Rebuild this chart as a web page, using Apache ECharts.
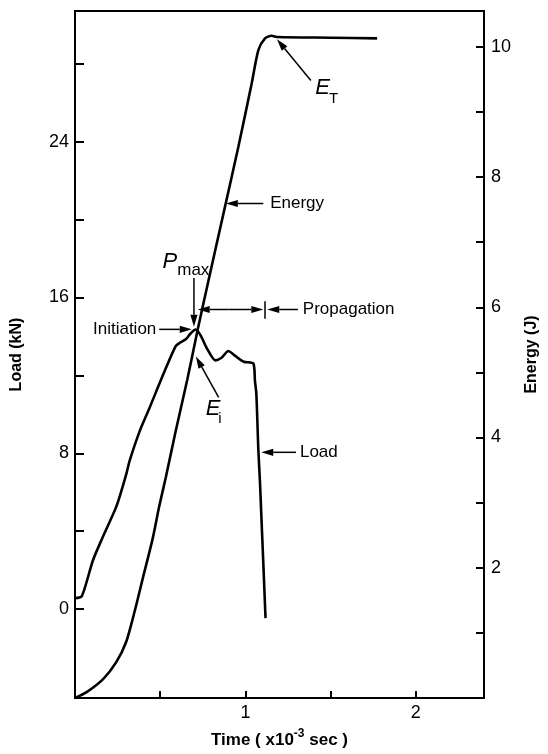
<!DOCTYPE html>
<html>
<head>
<meta charset="utf-8">
<script src="https://cdn.jsdelivr.net/npm/echarts@6/dist/echarts.min.js"></script>
<style>
html,body{margin:0;padding:0;background:#fff;}
#c{width:548px;height:754px;}
</style>
</head>
<body>
<div id="c"></div>
<script>
// ---- data ----
const loadTime = [0, 0.04, 0.105, 0.163, 0.244, 0.30, 0.32, 0.378, 0.436, 0.506, 0.591, 0.62, 0.65, 0.678, 0.708, 0.737, 0.773, 0.824, 0.86, 0.90, 0.94, 0.99, 1.047, 1.056, 1.064, 1.076, 1.085, 1.093, 1.105, 1.118];
const loadKN   = [0.56, 0.67, 2.5, 3.7, 5.3, 6.9, 7.6, 9.1, 10.3, 11.8, 13.5, 13.7, 13.85, 14.15, 14.35, 14.05, 13.4, 12.77, 12.9, 13.25, 13.0, 12.7, 12.6, 11.7, 11.08, 8.15, 6.6, 4.9, 2.36, -0.46];
const energyTime = [0, 0.068, 0.165, 0.242, 0.30, 0.349, 0.397, 0.455, 0.494, 0.533, 0.591, 0.659, 0.721, 0.785, 0.872, 0.959, 1.037, 1.076, 1.115, 1.153, 1.19, 1.5, 1.773];
const energyJ    = [0, 0.09, 0.29, 0.55, 0.86, 1.32, 1.83, 2.44, 2.94, 3.39, 4.1, 4.89, 5.67, 6.43, 7.45, 8.47, 9.44, 9.95, 10.13, 10.17, 10.15, 10.14, 10.13];
const timeTicks = [0.5, 1, 1.5, 2];
const timeLabels = [1, 2];
const loadTicks = [0, 4, 8, 12, 16, 20, 24, 28];
const loadLabels = [0, 8, 16, 24];
const energyTicks = [1, 2, 3, 4, 5, 6, 7, 8, 9, 10];
const energyLabels = [2, 4, 6, 8, 10];

const FONT = "'Liberation Sans Narrow','Liberation Sans',Arial,sans-serif";
const chart = echarts.init(document.getElementById('c'), null, {renderer:'canvas'});

const axisLine = {show:true, onZero:false, lineStyle:{color:'#000', width:2}};
chart.setOption({
  animation:false,
  backgroundColor:'#fff',
  grid:{left:75, right:60, top:11, bottom:55, show:true, borderColor:'#000', borderWidth:2, backgroundColor:'transparent'},
  xAxis:{
    type:'value', min:0, max:2.4,
    axisLine:axisLine,
    axisTick:{show:true, inside:true, length:7, lineStyle:{color:'#000', width:2}, customValues:timeTicks},
    axisLabel:{show:true, color:'#000', fontSize:18, fontFamily:FONT, margin:6, customValues:timeLabels},
    splitLine:{show:false},
    name:'{b|Time ( x10}{sup|-3}{b| sec )}',
    nameLocation:'middle', nameGap:30,
    nameTextStyle:{color:'#000', fontFamily:FONT, rich:{
      b:{fontSize:17, fontWeight:'bold', fontFamily:FONT, color:'#000', verticalAlign:'bottom'},
      sup:{fontSize:12, fontWeight:'bold', fontFamily:FONT, color:'#000', verticalAlign:'top', padding:[0,0,9,0]}
    }}
  },
  yAxis:[{
    type:'value', min:-4.56, max:30.7, position:'left',
    axisLine:axisLine,
    axisTick:{show:true, inside:true, length:9, lineStyle:{color:'#000', width:2}, customValues:loadTicks},
    axisLabel:{show:true, color:'#000', fontSize:18, fontFamily:FONT, margin:6, customValues:loadLabels},
    splitLine:{show:false},
    name:'Load (kN)', nameLocation:'middle', nameGap:50, nameRotate:90,
    nameTextStyle:{color:'#000', fontSize:16, fontWeight:'bold', fontFamily:FONT}
  },{
    type:'value', min:0, max:10.55, position:'right',
    axisLine:axisLine,
    axisTick:{show:true, inside:true, length:8, lineStyle:{color:'#000', width:2}, customValues:energyTicks},
    axisLabel:{show:true, color:'#000', fontSize:18, fontFamily:FONT, margin:7, customValues:energyLabels},
    splitLine:{show:false},
    name:'Energy (J)', nameLocation:'middle', nameGap:40, nameRotate:90,
    nameTextStyle:{color:'#000', fontSize:16, fontWeight:'bold', fontFamily:FONT}
  }],
  series:[{
    type:'line', name:'Load', yAxisIndex:0, showSymbol:false, smooth:0.25,
    lineStyle:{color:'#000', width:2.6}, z:3,
    data:loadTime.map((t,i)=>[t, loadKN[i]])
  },{
    type:'line', name:'Energy', yAxisIndex:1, showSymbol:false, smooth:0.25,
    lineStyle:{color:'#000', width:2.6}, z:3,
    data:energyTime.map((t,i)=>[t, energyJ[i]])
  }]
});

// ---- annotations (in Load-axis data coordinates) ----
function P(t, l){ return chart.convertToPixel({xAxisIndex:0, yAxisIndex:0}, [t, l]); }
function arrow(a, b, opts){
  opts = opts || {};
  const hl = opts.hl || 12, hw = opts.hw || 3.6;
  const dx=b[0]-a[0], dy=b[1]-a[1], L=Math.hypot(dx,dy), ux=dx/L, uy=dy/L;
  const bx=b[0]-ux*hl, by=b[1]-uy*hl;
  return [
    {type:'line', shape:{x1:a[0], y1:a[1], x2:bx, y2:by}, style:{stroke:'#000', lineWidth:1.5}, z:10},
    {type:'polygon', shape:{points:[[b[0],b[1]],[bx-uy*hw, by+ux*hw],[bx+uy*hw, by-ux*hw]]}, style:{fill:'#000'}, z:10}
  ];
}
function txt(p, s, o){
  o = o || {};
  return {type:'text', x:p[0], y:p[1], z:10, style:{text:s, fill:'#000', font:(o.italic?'italic ':'')+(o.size||17)+'px '+FONT, textAlign:o.align||'left', textVerticalAlign:o.va||'middle'}};
}
const g = [];
// Energy
g.push(...arrow(P(1.105,20.82), P(0.885,20.82)));
g.push(txt(P(1.145,20.82), 'Energy'));
// E_T
g.push(...arrow(P(1.384,27.13), P(1.185,29.25)));
g.push(txt(P(1.41,26.75), 'E', {italic:true, size:22}));
g.push(txt(P(1.49,26.2), 'T', {size:15}));
// P_max
g.push(...arrow(P(0.698,17.0), P(0.698,14.5)));
g.push(txt(P(0.60,17.8), 'P', {italic:true, size:22, align:'right'}));
g.push(txt(P(0.60,17.4), 'max', {size:17}));
// Initiation
g.push(...arrow(P(0.494,14.36), P(0.685,14.36)));
g.push(txt(P(0.477,14.36), 'Initiation', {align:'right'}));
// Propagation
g.push(...arrow(P(0.9,15.38), P(0.72,15.38)));
g.push(...arrow(P(0.9,15.38), P(1.105,15.38)));
(function(){ const a=P(1.115,15.8), b=P(1.115,14.9); g.push({type:'line', shape:{x1:a[0],y1:a[1],x2:b[0],y2:b[1]}, style:{stroke:'#000', lineWidth:1.5}, z:10}); })();
g.push(...arrow(P(1.308,15.38), P(1.128,15.38)));
g.push(txt(P(1.337,15.38), 'Propagation'));
// E_i
g.push(...arrow(P(0.843,10.87), P(0.709,12.97)));
g.push(txt(P(0.767,10.3), 'E', {italic:true, size:22}));
g.push(txt(P(0.84,9.75), 'i', {size:15}));
// Load
g.push(...arrow(P(1.297,8.05), P(1.093,8.05)));
g.push(txt(P(1.32,8.05), 'Load'));

chart.setOption({graphic:g});
</script>
</body>
</html>
